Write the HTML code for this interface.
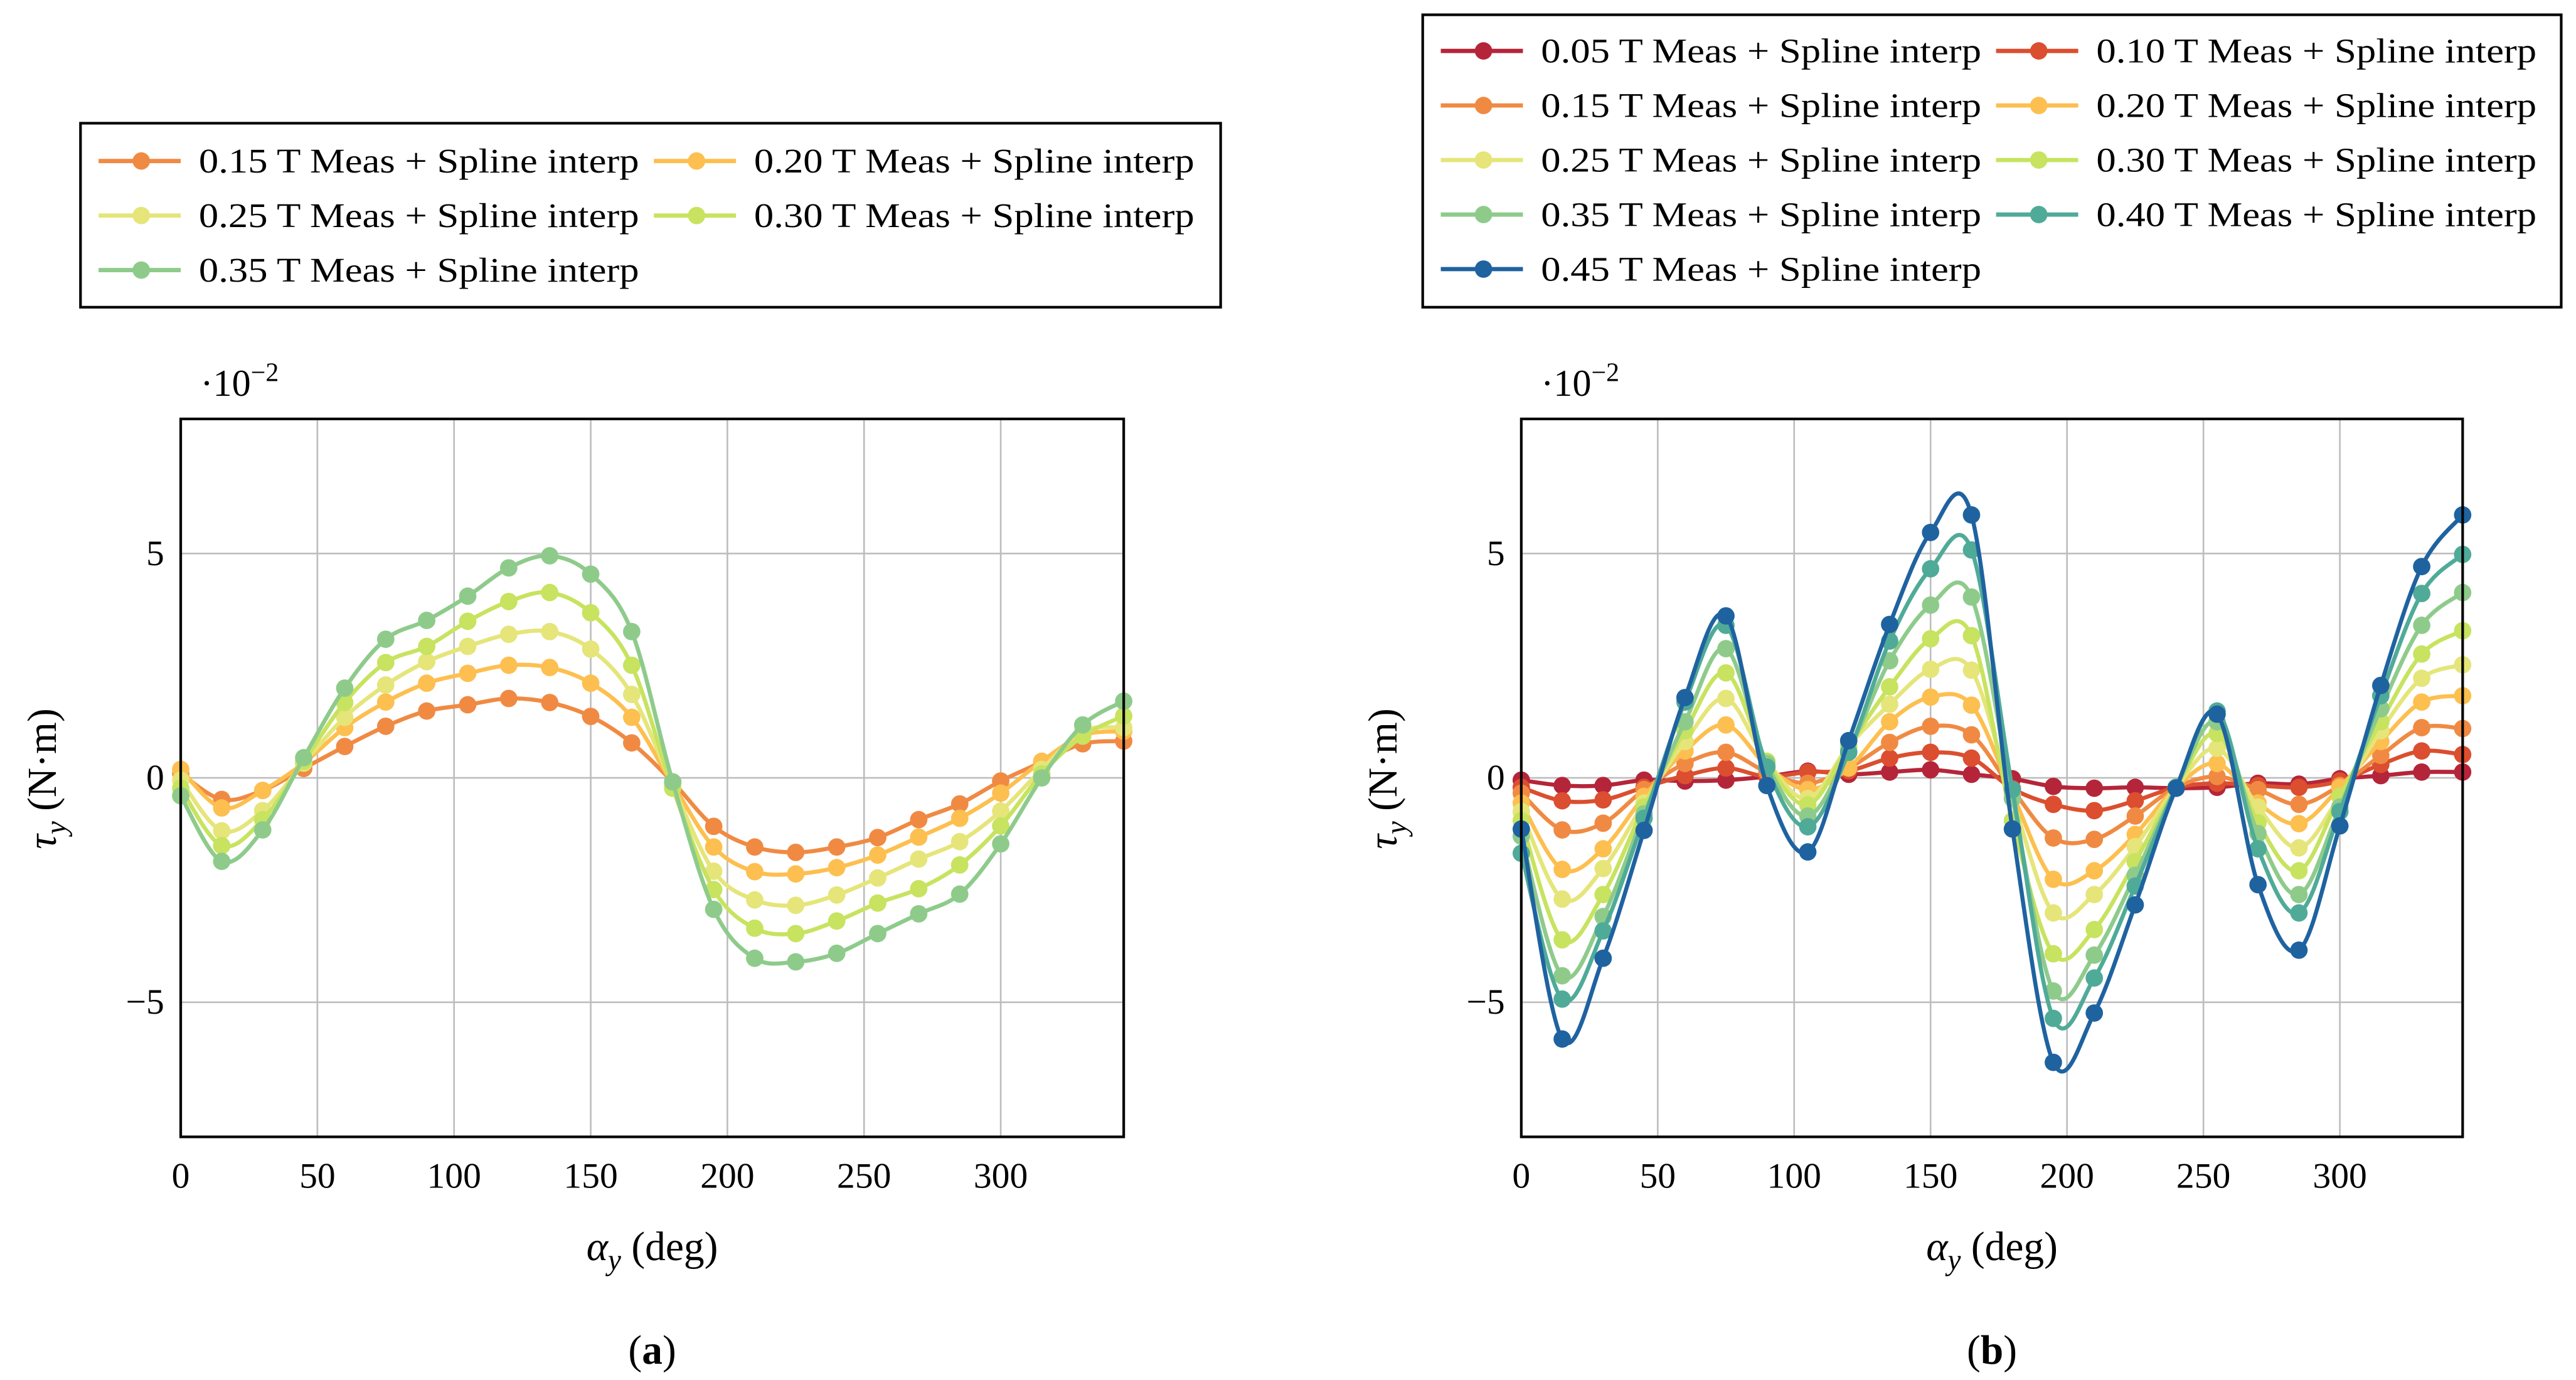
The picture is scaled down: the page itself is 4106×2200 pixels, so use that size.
<!DOCTYPE html>
<html><head><meta charset="utf-8"><style>
html,body{margin:0;padding:0;background:#fff;}
svg{display:block;font-family:"Liberation Serif","DejaVu Serif",serif;}
svg text{font-family:"Liberation Serif","DejaVu Serif",serif;fill:#000;}
</style></head><body>
<svg id="fig" width="4106" height="2200" viewBox="0 0 1568 840" preserveAspectRatio="none" font-family="Liberation Serif, serif" xmlns="http://www.w3.org/2000/svg"></svg>
<script>
const angles = [0,15,30,45,60,75,90,105,120,135,150,165,180,195,210,225,240,255,270,285,300,315,330,345];
const xTicks = [0,50,100,150,200,250,300];
const yTicks = [-5,0,5];
const yTickLabels = ["\u22125","0","5"];

const leftLabels = ["0.15","0.20","0.25","0.30","0.35"];
const leftColors = ["#f08a43","#fdbf4f","#e5e57a","#c7e35f","#8ecb8b"];
const left015 = [0.1,-0.48,-0.28,0.21,0.70,1.15,1.49,1.63,1.77,1.68,1.37,0.78,-0.09,-1.08,-1.54,-1.66,-1.54,-1.33,-0.93,-0.58,-0.07,0.35,0.76,0.82];
const left020 = [0.19,-0.67,-0.28,0.33,1.12,1.69,2.11,2.33,2.51,2.46,2.11,1.35,-0.14,-1.54,-2.09,-2.14,-2.0,-1.72,-1.32,-0.9,-0.34,0.37,0.95,1.04];
const left025 = [-0.05,-1.18,-0.73,0.33,1.35,2.07,2.59,2.93,3.2,3.26,2.87,1.86,-0.17,-2.08,-2.72,-2.84,-2.61,-2.23,-1.81,-1.42,-0.74,0.19,1.04,1.12];
const left030 = [-0.23,-1.51,-0.93,0.37,1.68,2.57,2.93,3.49,3.93,4.13,3.68,2.51,-0.23,-2.49,-3.35,-3.47,-3.19,-2.79,-2.47,-1.94,-1.07,0.09,0.93,1.38];
const left035 = [-0.4,-1.86,-1.16,0.45,2.0,3.09,3.51,4.05,4.68,4.95,4.54,3.26,-0.09,-2.93,-4.02,-4.1,-3.91,-3.47,-3.03,-2.59,-1.47,0,1.18,1.71];

const rightLabels = ["0.05","0.10","0.15","0.20","0.25","0.30","0.35","0.40","0.45"];
const rightColors = ["#b5253a","#db4e2f","#f08a43","#fdbf4f","#e5e57a","#c7e35f","#8ecb8b","#4fab98","#1f62a0"];
const right005 = [-0.05,-0.17,-0.17,-0.05,-0.07,-0.05,0.03,0.15,0.08,0.13,0.18,0.08,-0.02,-0.19,-0.23,-0.21,-0.23,-0.21,-0.12,-0.14,-0.02,0.05,0.13,0.13];
const right010 = [-0.21,-0.51,-0.49,-0.21,0.05,0.22,0.03,0.13,0.16,0.44,0.57,0.44,-0.24,-0.59,-0.73,-0.51,-0.21,-0.12,-0.17,-0.21,-0.07,0.3,0.6,0.52];
const right015 = [-0.34,-1.16,-1.01,-0.26,0.32,0.57,0.13,-0.12,0.22,0.79,1.15,0.96,-0.26,-1.34,-1.37,-0.85,-0.21,0.03,-0.26,-0.59,-0.17,0.5,1.12,1.1];
const right020 = [-0.56,-2.04,-1.58,-0.41,0.6,1.18,0.27,-0.26,0.22,1.25,1.8,1.62,-0.36,-2.26,-2.07,-1.26,-0.21,0.32,-0.56,-1.02,-0.21,0.81,1.69,1.83];
const right025 = [-0.75,-2.7,-2.02,-0.56,0.81,1.77,0.37,-0.46,0.71,1.64,2.42,2.4,-0.46,-3.01,-2.6,-1.53,-0.21,0.66,-0.65,-1.56,-0.41,1.05,2.22,2.52];
const right030 = [-0.95,-3.61,-2.6,-0.65,1.05,2.34,0.37,-0.6,0.71,2.03,3.1,3.17,-0.95,-3.92,-3.38,-1.87,-0.21,0.99,-1.0,-2.07,-0.41,1.25,2.76,3.28];
const right035 = [-1.3,-4.41,-3.09,-0.8,1.25,2.88,0.32,-0.85,0.6,2.61,3.85,4.03,-0.46,-4.75,-3.95,-2.17,-0.21,1.25,-1.24,-2.6,-0.65,1.54,3.4,4.13];
const right040 = [-1.68,-4.93,-3.41,-0.9,1.69,3.4,0.24,-1.09,0.57,3.05,4.66,5.08,-0.26,-5.36,-4.46,-2.41,-0.21,1.49,-1.58,-3.01,-0.75,1.83,4.11,4.98];
const right045 = [-1.14,-5.82,-4.02,-1.17,1.79,3.61,-0.17,-1.65,0.83,3.42,5.47,5.86,-1.14,-6.34,-5.24,-2.83,-0.23,1.42,-2.38,-3.84,-1.07,2.06,4.71,5.86];

const leftSeries = [left015,left020,left025,left030,left035];
const rightSeries = [right005,right010,right015,right020,right025,right030,right035,right040,right045];

const NS = "http://www.w3.org/2000/svg";
const svg = document.getElementById('fig');
const FONT = '"Liberation Serif", serif';
function mk(tag, attrs, parent){
  const e = document.createElementNS(NS, tag);
  for (const k in attrs) e.setAttribute(k, attrs[k]);
  if (tag==='text') e.setAttribute('font-family', FONT);
  (parent||svg).appendChild(e);
  return e;
}
function smoothPath(pts){
  let d = "M"+pts[0][0]+","+pts[0][1];
  for (let i=0;i<pts.length-1;i++){
    const p0=pts[Math.max(0,i-1)],p1=pts[i],p2=pts[i+1],p3=pts[Math.min(pts.length-1,i+2)];
    const t=1/6;
    d+=" C"+(p1[0]+(p2[0]-p0[0])*t)+","+(p1[1]+(p2[1]-p0[1])*t)+" "+(p2[0]-(p3[0]-p1[0])*t)+","+(p2[1]-(p3[1]-p1[1])*t)+" "+p2[0]+","+p2[1];
  }
  return d;
}
function drawPanel(name, x0, x1, series, colors, labels, caption){
  const y0=255, y1=692, xmin=0, xmax=345, ymin=-8, ymax=8;
  const X = v => x0 + (v-xmin)/(xmax-xmin)*(x1-x0);
  const Y = v => y1 - (v-ymin)/(ymax-ymin)*(y1-y0);
  const g = mk('g', {});
  
  
  xTicks.forEach(t=>{
    const l = mk('line',{x1:X(t),x2:X(t),y1:y0,y2:y1,stroke:'#bdbdbd','stroke-width':1},g);
    
    
    const tx = mk('text',{x:X(t),y:y1+31,'font-size':22,'text-anchor':'middle'},g);
    tx.textContent=t;
    
    
  });
  yTicks.forEach((t,i)=>{
    const l = mk('line',{x1:x0,x2:x1,y1:Y(t),y2:Y(t),stroke:'#bdbdbd','stroke-width':1},g);
    
    
    const tx = mk('text',{x:x0-10,y:Y(t)+7,'font-size':22,'text-anchor':'end'},g);
    tx.textContent=yTickLabels[i];
    
    
  });
  const clip = mk('clipPath',{id:'clip-'+name},g);
  mk('rect',{x:x0,y:y0,width:x1-x0,height:y1-y0},clip);
  series.forEach((s,si)=>{
    const pts = angles.map((a,i)=>[X(a),Y(s[i])]);
    const p = mk('path',{d:smoothPath(pts),fill:'none',stroke:colors[si],'stroke-width':2.5,'clip-path':'url(#clip-'+name+')'},g);
    
    
    pts.forEach(q=>{
      const c = mk('circle',{cx:q[0],cy:q[1],r:5.3,fill:colors[si]},g);
      
      
    });
  });
  const box = mk('rect',{x:x0,y:y0,width:x1-x0,height:y1-y0,fill:'none',stroke:'#000','stroke-width':1.6},g);
  
  
  const sc = mk('text',{x:x0+12,y:241,'font-size':23},g);
  sc.innerHTML='\u00b710<tspan dy="-9" font-size="16">\u22122</tspan>';
  
  
  const cx=(x0+x1)/2;
  const xt = mk('text',{x:cx,y:767,'font-size':25,'text-anchor':'middle'},g);
  xt.innerHTML='<tspan font-style="italic">\u03b1</tspan><tspan font-style="italic" font-size="18" dy="6">y</tspan><tspan dy="-6"> (deg)</tspan>';
  
  
  const yt = mk('text',{x:0,y:0,'font-size':25,'text-anchor':'middle',transform:'translate('+(x0-76)+',474) rotate(-90)'},g);
  yt.innerHTML='<tspan font-style="italic">\u03c4</tspan><tspan font-style="italic" font-size="18" dy="6">y</tspan><tspan dy="-6"> (N\u00b7m)</tspan>';
  
  
  const cap = mk('text',{x:cx,y:830,'font-size':25,'text-anchor':'middle'},g);
  cap.innerHTML='(<tspan font-weight="bold">'+caption+'</tspan>)';
  
  
}
function drawLegend(name, bx, by, bw, bh, rowY0, colors, labels){
  const g = mk('g',{});
  
  
  const r = mk('rect',{x:bx,y:by,width:bw,height:bh,fill:'#fff',stroke:'#000','stroke-width':1.6},g);
  
  
  labels.forEach((lab,i)=>{
    const col=i%2,row=Math.floor(i/2);
    const lx = bx+11+col*338, ly = rowY0+row*33.2;
    const e = mk('g',{},g);
    
    
    mk('line',{x1:lx,x2:lx+50,y1:ly,y2:ly,stroke:colors[i],'stroke-width':2.6},e);
    mk('circle',{cx:lx+26,cy:ly,r:5.3,fill:colors[i]},e);
    const t = mk('text',{x:lx+61,y:ly+7,'font-size':21,textLength:268,lengthAdjust:'spacingAndGlyphs'},e);
    t.textContent = lab+' T Meas + Spline interp';
  });
}
drawPanel('left',110,684,leftSeries,leftColors,leftLabels,'a');
drawPanel('right',926,1499,rightSeries,rightColors,rightLabels,'b');
drawLegend('left-legend',49,75,694,112,98,leftColors,leftLabels);
drawLegend('right-legend',866,9,693,178,31,rightColors,rightLabels);
</script>
</body></html>
